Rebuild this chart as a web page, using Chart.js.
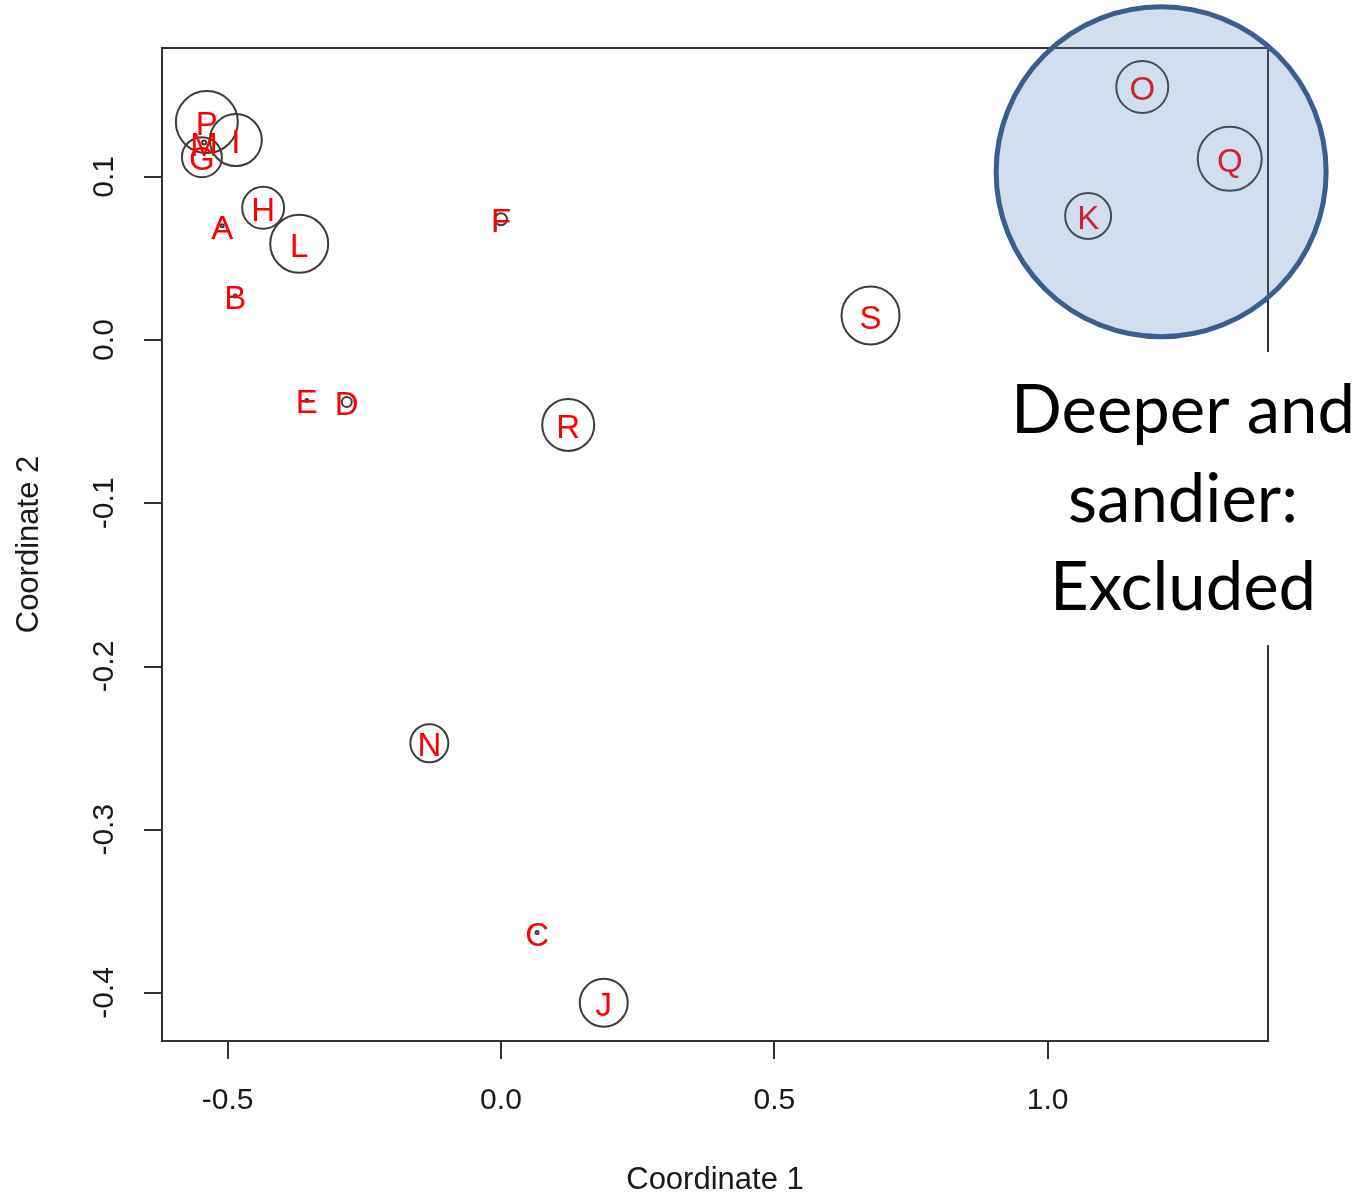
<!DOCTYPE html>
<html>
<head>
<meta charset="utf-8">
<title>Ordination of sites</title>
<script src="https://cdn.jsdelivr.net/npm/chart.js@4"></script>
<style>
  html, body { margin: 0; padding: 0; background: #fff; }
  #wrap { width: 1364px; height: 1195px; }
</style>
</head>
<body>
<div id="wrap"><canvas id="ordination" width="1364" height="1195"></canvas></div>
<script>
// site scores
const siteLabels = ['P', 'M', 'I', 'G', 'H', 'A', 'L', 'B', 'E', 'D', 'F', 'R', 'S', 'N', 'C', 'J', 'O', 'Q', 'K'];
const coord1 = [-0.538, -0.543, -0.485, -0.547, -0.435, -0.510, -0.369, -0.486, -0.355, -0.282, 0.000, 0.123, 0.676, -0.131, 0.066, 0.188, 1.173, 1.333, 1.074];
const coord2 = [0.1335, 0.121, 0.1225, 0.112, 0.081, 0.070, 0.059, 0.027, -0.037, -0.038, 0.074, -0.052, 0.015, -0.247, -0.363, -0.406, 0.155, 0.111, 0.076];
// circle radius of each site (px)
const circleSizes = [31, 2, 26, 20, 21, 1.5, 29, 1.5, 1.5, 5, 6, 26, 29, 19, 1.5, 24, 26, 32, 23];

const xTicks = [-0.5, 0.0, 0.5, 1.0];
const yTicks = [-0.4, -0.3, -0.2, -0.1, 0.0, 0.1];

// highlighted group (O, Q, K) and its note
const groupCenter = [1.2075, 0.1031];
const calloutLines = ['Deeper and', 'sandier:', 'Excluded'];

const axisFont = '"Liberation Sans", Arial, sans-serif';

const sitePlugin = {
  id: 'sitePlugin',
  beforeDatasetsDraw(chart) {
    const { ctx, chartArea: a } = chart;
    ctx.save();
    ctx.strokeStyle = '#333';
    ctx.lineWidth = 2;
    ctx.strokeRect(a.left, a.top, a.right - a.left, a.bottom - a.top);
    ctx.restore();
  },
  afterDatasetsDraw(chart) {
    const { ctx, scales: { x, y } } = chart;
    const meta = chart.getDatasetMeta(0);

    // red site letters
    ctx.save();
    ctx.font = '33px ' + axisFont;
    ctx.fillStyle = '#ff0000';
    ctx.textAlign = 'center';
    ctx.textBaseline = 'alphabetic';
    meta.data.forEach((pt, i) => {
      ctx.fillText(siteLabels[i], pt.x, pt.y + 13);
    });
    ctx.restore();

    // y tick labels, rotated like base R
    ctx.save();
    ctx.font = '30px ' + axisFont;
    ctx.fillStyle = '#1a1a1a';
    ctx.textAlign = 'center';
    ctx.textBaseline = 'middle';
    yTicks.forEach(v => {
      ctx.save();
      ctx.translate(105, y.getPixelForValue(v));
      ctx.rotate(-Math.PI / 2);
      ctx.fillText(v.toFixed(1), 0, 0);
      ctx.restore();
    });
    ctx.restore();

    // translucent circle over the excluded group
    ctx.save();
    ctx.beginPath();
    ctx.arc(x.getPixelForValue(groupCenter[0]), y.getPixelForValue(groupCenter[1]), 165, 0, Math.PI * 2);
    ctx.fillStyle = 'rgba(79, 129, 189, 0.26)';
    ctx.fill();
    ctx.lineWidth = 5;
    ctx.strokeStyle = '#3a5f8e';
    ctx.stroke();
    ctx.restore();

    // text box of the note
    ctx.save();
    ctx.fillStyle = '#fff';
    ctx.fillRect(1000, 352, 364, 293);
    ctx.fillStyle = '#000';
    ctx.textAlign = 'center';
    ctx.textBaseline = 'alphabetic';
    ctx.font = '73px Lato, "Open Sans", sans-serif';
    const w = ctx.measureText(calloutLines[0]).width;
    const size = Math.round(73 * 346 / w);
    ctx.font = size + 'px Lato, "Open Sans", sans-serif';
    calloutLines.forEach((line, i) => {
      ctx.fillText(line, 1183, 433 + i * 88.5);
    });
    ctx.restore();
  }
};

const ctx = document.getElementById('ordination').getContext('2d');

new Chart(ctx, {
  type: 'bubble',
  data: {
    datasets: [{
      label: 'Sites',
      data: siteLabels.map((s, i) => ({ x: coord1[i], y: coord2[i], r: circleSizes[i] })),
      backgroundColor: 'rgba(0, 0, 0, 0)',
      borderColor: '#3c3c3c',
      borderWidth: 2,
      hoverRadius: 0,
      clip: false
    }]
  },
  options: {
    responsive: false,
    animation: false,
    devicePixelRatio: 1,
    events: [],
    layout: { padding: { top: 48, right: 96, left: 0, bottom: 0 } },
    plugins: {
      legend: { display: false },
      tooltip: { enabled: false }
    },
    scales: {
      x: {
        type: 'linear',
        min: -0.62,
        max: 1.403,
        afterBuildTicks: scale => { scale.ticks = xTicks.map(value => ({ value })); },
        afterFit: scale => { scale.height = 154; },
        border: { display: true, color: '#333', width: 2 },
        grid: { display: true, drawOnChartArea: false, drawTicks: true, tickLength: 18, color: '#333', lineWidth: 2 },
        ticks: {
          autoSkip: false,
          maxRotation: 0,
          padding: 24,
          color: '#1a1a1a',
          font: { family: axisFont, size: 30 },
          callback: v => v.toFixed(1)
        },
        title: {
          display: true,
          text: 'Coordinate 1',
          color: '#1a1a1a',
          font: { family: axisFont, size: 31 },
          padding: { top: 0, bottom: -4 }
        }
      },
      y: {
        type: 'linear',
        min: -0.4294,
        max: 0.1789,
        afterBuildTicks: scale => { scale.ticks = yTicks.map(value => ({ value })); },
        afterFit: scale => { scale.width = 162; },
        border: { display: true, color: '#333', width: 2 },
        grid: { display: true, drawOnChartArea: false, drawTicks: true, tickLength: 18, color: '#333', lineWidth: 2 },
        ticks: { display: false },
        title: {
          display: true,
          text: 'Coordinate 2',
          color: '#1a1a1a',
          font: { family: axisFont, size: 31 },
          padding: { top: 11, bottom: 0 }
        }
      }
    }
  },
  plugins: [sitePlugin]
});
</script>
</body>
</html>
